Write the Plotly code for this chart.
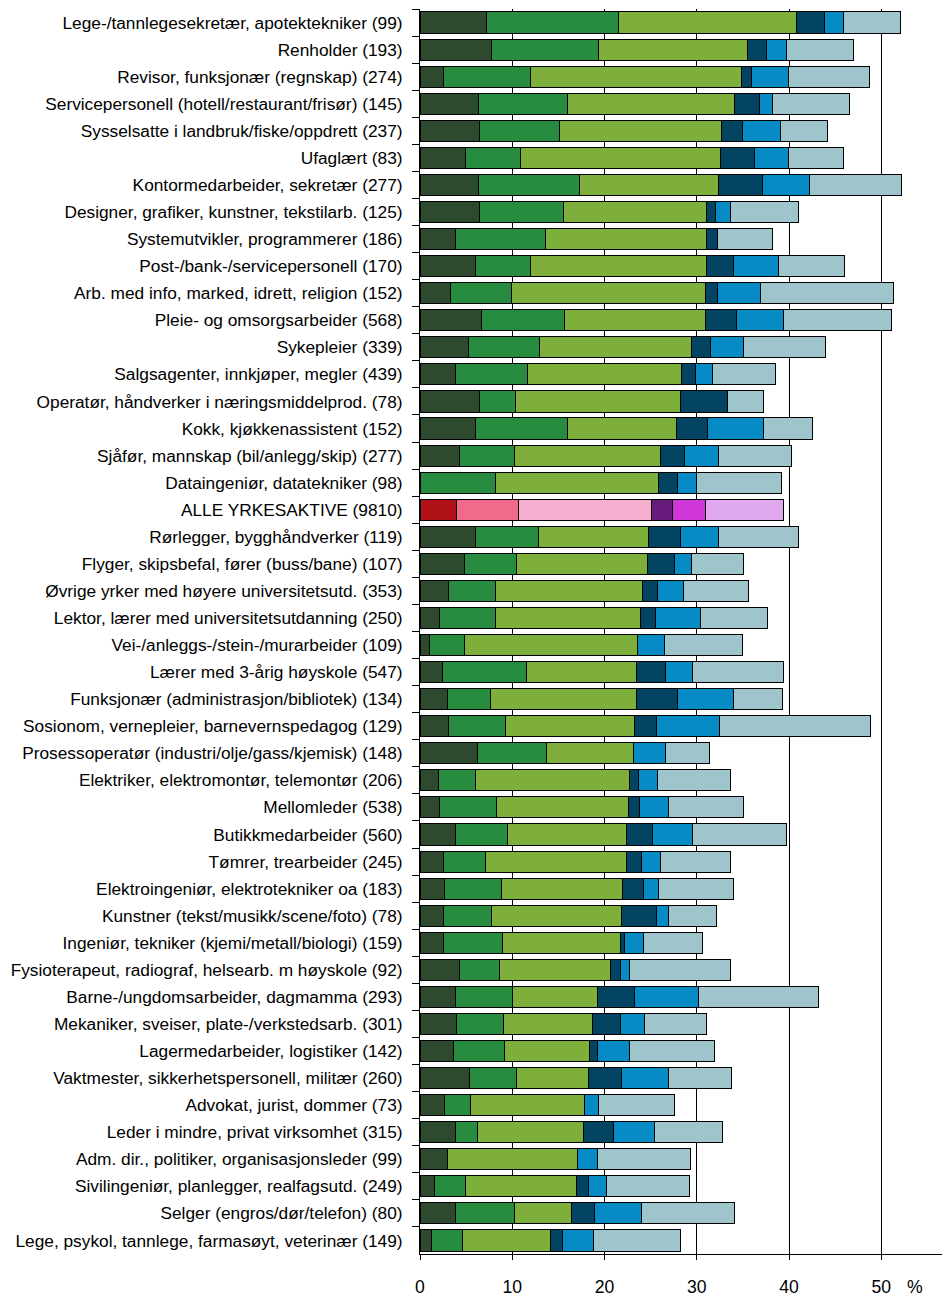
import plotly.graph_objects as go

categories = [
    "Lege-/tannlegesekretær, apotektekniker (99)",
    "Renholder (193)",
    "Revisor, funksjonær (regnskap) (274)",
    "Servicepersonell (hotell/restaurant/frisør) (145)",
    "Sysselsatte i landbruk/fiske/oppdrett (237)",
    "Ufaglært (83)",
    "Kontormedarbeider, sekretær (277)",
    "Designer, grafiker, kunstner, tekstilarb. (125)",
    "Systemutvikler, programmerer (186)",
    "Post-/bank-/servicepersonell (170)",
    "Arb. med info, marked, idrett, religion (152)",
    "Pleie- og omsorgsarbeider (568)",
    "Sykepleier (339)",
    "Salgsagenter, innkjøper, megler (439)",
    "Operatør, håndverker i næringsmiddelprod. (78)",
    "Kokk, kjøkkenassistent (152)",
    "Sjåfør, mannskap (bil/anlegg/skip) (277)",
    "Dataingeniør, datatekniker (98)",
    "ALLE YRKESAKTIVE (9810)",
    "Rørlegger, bygghåndverker (119)",
    "Flyger, skipsbefal, fører (buss/bane) (107)",
    "Øvrige yrker med høyere universitetsutd. (353)",
    "Lektor, lærer med universitetsutdanning (250)",
    "Vei-/anleggs-/stein-/murarbeider (109)",
    "Lærer med 3-årig høyskole (547)",
    "Funksjonær (administrasjon/bibliotek) (134)",
    "Sosionom, vernepleier, barnevernspedagog (129)",
    "Prosessoperatør (industri/olje/gass/kjemisk) (148)",
    "Elektriker, elektromontør, telemontør (206)",
    "Mellomleder (538)",
    "Butikkmedarbeider (560)",
    "Tømrer, trearbeider (245)",
    "Elektroingeniør, elektrotekniker oa (183)",
    "Kunstner (tekst/musikk/scene/foto) (78)",
    "Ingeniør, tekniker (kjemi/metall/biologi) (159)",
    "Fysioterapeut, radiograf, helsearb. m høyskole (92)",
    "Barne-/ungdomsarbeider, dagmamma (293)",
    "Mekaniker, sveiser, plate-/verkstedsarb. (301)",
    "Lagermedarbeider, logistiker (142)",
    "Vaktmester, sikkerhetspersonell, militær (260)",
    "Advokat, jurist, dommer (73)",
    "Leder i mindre, privat virksomhet (315)",
    "Adm. dir., politiker, organisasjonsleder (99)",
    "Sivilingeniør, planlegger, realfagsutd. (249)",
    "Selger (engros/dør/telefon) (80)",
    "Lege, psykol, tannlege, farmasøyt, veterinær (149)",
]

seg1 = [7.2, 7.8, 2.6, 6.3, 6.4, 4.9, 6.3, 6.5, 3.8, 6.0, 3.3, 6.7, 5.3, 3.9, 6.4, 6.0,
        4.3, 0.0, 4.0, 6.0, 4.8, 3.1, 2.1, 1.0, 2.4, 3.0, 3.1, 6.2, 2.0, 2.1, 3.8, 2.5,
        2.7, 2.6, 2.6, 4.3, 3.8, 4.0, 3.6, 5.4, 2.7, 3.9, 3.0, 1.6, 3.8, 1.3]
seg2 = [14.3, 11.5, 9.4, 9.7, 8.7, 6.0, 11.0, 9.1, 9.8, 6.0, 6.6, 9.0, 7.7, 7.8, 3.9, 10.0,
        5.9, 8.2, 6.7, 6.8, 5.7, 5.1, 6.1, 3.8, 9.1, 4.6, 6.2, 7.5, 4.0, 6.2, 5.7, 4.6,
        6.1, 5.1, 6.3, 4.3, 6.2, 5.0, 5.6, 5.1, 2.8, 2.3, 0.0, 3.3, 6.4, 3.3]
seg3 = [19.3, 16.2, 22.8, 18.1, 17.6, 21.7, 15.0, 15.5, 17.5, 19.0, 21.0, 15.2, 16.4, 16.6, 17.9, 11.8,
        15.9, 17.6, 14.4, 12.0, 14.2, 15.9, 15.7, 18.8, 12.0, 15.9, 13.9, 9.4, 16.7, 14.3, 12.9, 15.3,
        13.2, 14.1, 12.8, 12.0, 9.2, 9.7, 9.2, 7.8, 12.3, 11.5, 14.1, 12.1, 6.2, 9.5]
seg4 = [3.0, 2.1, 1.1, 2.7, 2.2, 3.6, 4.8, 0.9, 1.1, 3.0, 1.3, 3.4, 2.1, 1.6, 5.1, 3.4,
        2.6, 2.1, 2.3, 3.4, 2.9, 1.6, 1.6, 0.0, 3.1, 4.4, 2.4, 0.0, 1.0, 1.2, 2.8, 1.6,
        2.2, 3.8, 0.5, 1.1, 4.1, 3.0, 0.8, 3.5, 0.0, 3.3, 0.0, 1.3, 2.5, 1.3]
seg5 = [2.1, 2.1, 4.0, 1.4, 4.2, 3.7, 5.1, 1.6, 0.0, 4.8, 4.7, 5.1, 3.6, 1.8, 0.0, 6.0,
        3.6, 2.1, 3.5, 4.2, 1.8, 2.9, 4.9, 2.9, 2.9, 6.1, 6.9, 3.5, 2.0, 3.1, 4.3, 2.1,
        1.6, 1.3, 2.0, 1.0, 6.9, 2.6, 3.5, 5.1, 1.5, 4.4, 2.1, 1.9, 5.1, 3.4]
seg6 = [6.2, 7.3, 8.8, 8.4, 5.1, 6.0, 10.0, 7.4, 6.0, 7.2, 14.4, 11.7, 8.9, 6.8, 3.9, 5.3,
        8.0, 9.2, 8.5, 8.6, 5.7, 7.0, 7.3, 8.5, 9.9, 5.3, 16.3, 4.8, 7.9, 8.2, 10.2, 7.5,
        8.2, 5.2, 6.4, 11.0, 13.0, 6.7, 9.2, 6.9, 8.3, 7.4, 10.1, 9.0, 10.1, 9.4]

highlight = "ALLE YRKESAKTIVE (9810)"
base_colors = ["#2D4A2F", "#288C40", "#7DAF3A", "#034463", "#078BC4", "#9EC5CB"]
alle_colors = ["#B11218", "#F26A8A", "#F6AECF", "#661A7A", "#D037D9", "#E0A8EF"]
series = [seg1, seg2, seg3, seg4, seg5, seg6]

fig = go.Figure()
for k, vals in enumerate(series):
    cols = [alle_colors[k] if c == highlight else base_colors[k] for c in categories]
    fig.add_trace(go.Bar(
        x=vals, y=categories, orientation="h",
        marker=dict(color=cols, line=dict(color="black", width=1)),
        showlegend=False,
    ))

# page body adds an 8px offset, so the figure is sized 942x1292
fig.update_layout(
    width=942, height=1292,
    barmode="stack", bargap=0.22,
    plot_bgcolor="white", paper_bgcolor="white",
    margin=dict(l=412, r=5, t=1, b=46),
    font=dict(family="Liberation Sans, Arial, sans-serif", size=17.3, color="black"),
    xaxis=dict(
        range=[0, 56.9], tickvals=[0, 10, 20, 30, 40, 50],
        showgrid=True, gridcolor="black", gridwidth=1, zeroline=False,
        showline=True, linecolor="black", linewidth=1,
        ticks="outside", ticklen=5, tickcolor="black",
        ticklabelstandoff=12, automargin=False,
        tickfont=dict(size=17.6),
    ),
    yaxis=dict(
        categoryorder="array", categoryarray=categories, autorange="reversed",
        showline=True, linecolor="black", linewidth=1,
        ticks="outside", ticklen=7, tickcolor="black", tickson="boundaries",
        showgrid=False, ticklabelstandoff=13, automargin=False,
        tickfont=dict(size=17.3),
    ),
    annotations=[dict(
        x=53.7, y=0, xref="x", yref="paper", yanchor="middle", yshift=-33,
        text="%", showarrow=False, font=dict(size=17.6),
    )],
)

fig.write_html("out.html")
